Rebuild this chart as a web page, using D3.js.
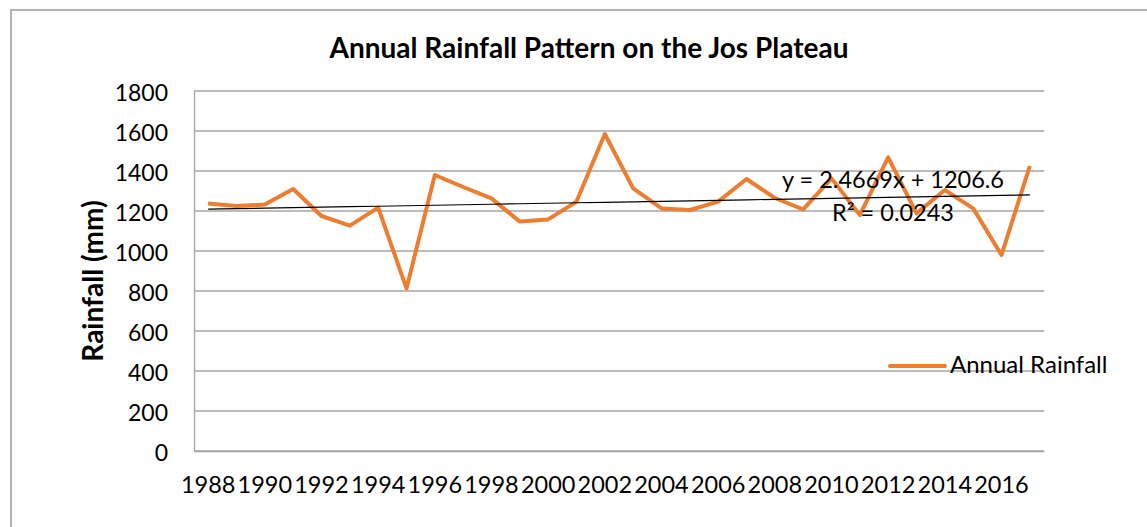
<!DOCTYPE html>
<html>
<head>
<meta charset="utf-8">
<script src="https://cdn.jsdelivr.net/npm/d3@7"></script>
<style>
  body { margin: 0; background: #fff; }
  text { font-family: Lato, "Open Sans", sans-serif; fill: #000; }
</style>
</head>
<body>
<svg id="mainSvg" width="1147" height="527"></svg>
<script>
// data
var years = [1988,1989,1990,1991,1992,1993,1994,1995,1996,1997,1998,1999,2000,2001,2002,
             2003,2004,2005,2006,2007,2008,2009,2010,2011,2012,2013,2014,2015,2016,2017];
var rainfall = [1238,1225,1232,1310,1175,1127,1217,813,1380,1320,1263,1147,1158,1247,1585,
                1313,1213,1205,1247,1360,1265,1208,1363,1180,1468,1188,1305,1213,980,1425];
var yTicks = [0,200,400,600,800,1000,1200,1400,1600,1800];
// linear trend as printed on the chart
var trendSlope = 2.4669, trendIntercept = 1206.6;
var trendLabels = ["y = 2.4669x + 1206.6", "R\u00b2 = 0.0243"];

var margin = {top: 91, right: 103, bottom: 76, left: 194},
    width = 1147 - margin.left - margin.right,
    height = 527 - margin.top - margin.bottom;

var svg = d3.select("#mainSvg");

// outer chart border
svg.append("path")
  .attr("d", "M11,527V10H1147")
  .attr("fill", "none")
  .attr("stroke", "#b3b3b3")
  .attr("stroke-width", 2);

svg.append("text")
  .attr("x", 589).attr("y", 58)
  .attr("text-anchor", "middle")
  .style("font-weight", "bold")
  .style("font-size", "28px")
  .text("Annual Rainfall Pattern on the Jos Plateau");

var g = svg.append("g")
  .attr("transform", "translate(" + margin.left + "," + margin.top + ")");

var x = d3.scaleBand().domain(years).range([0, width]);
var y = d3.scaleLinear().domain([0, 1800]).range([height, 0]);

// gridlines
g.selectAll(".grid")
  .data(yTicks)
  .enter()
  .append("line")
  .attr("class", "grid")
  .attr("x1", 0).attr("x2", width)
  .attr("y1", function(d) { return y(d); })
  .attr("y2", function(d) { return y(d); })
  .attr("stroke", "#a6a6a6")
  .attr("stroke-width", 1.3);

// y axis
var yAxis = g.append("g")
  .call(d3.axisLeft(y).tickValues(yTicks).tickFormat(d3.format("d")).tickSize(0).tickPadding(26));
yAxis.select(".domain").attr("stroke", "#a6a6a6").attr("stroke-width", 1.3);
yAxis.selectAll("text").style("font-size", "23px").attr("dy", "0.4em");

// x axis, every other year labelled
var xAxis = g.append("g")
  .attr("transform", "translate(0," + height + ")")
  .call(d3.axisBottom(x)
    .tickValues(years.filter(function(d, i) { return i % 2 == 0; }))
    .tickSize(0).tickPadding(25));
xAxis.select(".domain").attr("stroke", "#a6a6a6").attr("stroke-width", 1.3);
xAxis.selectAll("text").style("font-size", "23.5px");

svg.append("text")
  .attr("transform", "translate(103,281) rotate(-90)")
  .attr("text-anchor", "middle")
  .style("font-weight", "bold")
  .style("font-size", "28px")
  .text("Rainfall (mm)");

var cx = function(d, i) { return x(years[i]) + x.bandwidth() / 2; };

// rainfall line
var valueline = d3.line()
  .x(cx)
  .y(function(d) { return y(d); });

g.append("path")
  .attr("d", valueline(rainfall))
  .attr("fill", "none")
  .attr("stroke", "#ED7D31")
  .attr("stroke-width", 4)
  .attr("stroke-linejoin", "round");

// trend line
var trend = years.map(function(d, i) { return trendSlope * (i + 1) + trendIntercept; });
g.append("path")
  .attr("d", valueline(trend))
  .attr("fill", "none")
  .attr("stroke", "#000")
  .attr("stroke-width", 1.2);

svg.selectAll(".trendLabel")
  .data(trendLabels)
  .enter()
  .append("text")
  .attr("class", "trendLabel")
  .attr("x", 893)
  .attr("y", function(d, i) { return 188 + i * 33; })
  .attr("text-anchor", "middle")
  .style("font-size", "23.5px")
  .text(function(d) { return d; });

// legend
svg.append("line")
  .attr("x1", 890).attr("x2", 945)
  .attr("y1", 366).attr("y2", 366)
  .attr("stroke", "#ED7D31")
  .attr("stroke-width", 4)
  .attr("stroke-linecap", "round");
svg.append("text")
  .attr("x", 950).attr("y", 373)
  .style("font-size", "24px")
  .text("Annual Rainfall");
</script>
</body>
</html>
